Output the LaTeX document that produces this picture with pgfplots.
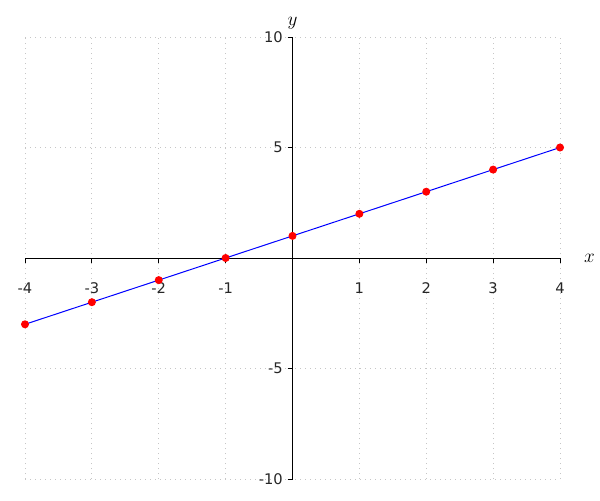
\documentclass[border=0pt]{standalone}
\usepackage{fontspec}
\setmainfont{DejaVu Sans}
\usepackage{pgfplots}
\pgfplotsset{compat=1.18}
\begin{document}
\begin{tikzpicture}
\begin{axis}[name=ax,
  scale only axis, width=401.25pt, height=331.5pt,
  axis lines=middle, axis line style={-, black, line width=0.75pt},
  xmin=-4, xmax=4, ymin=-10, ymax=10,
  xtick={-4,-3,-2,-1,1,2,3,4}, xticklabels={-4,-3,-2,-1,1,2,3,4},
  ytick={-10,-5,5,10}, yticklabels={-10,-5,5,10},
  tick align=outside, major tick length=3.75pt,
  tick style={black, line width=0.75pt},
  ticklabel style={font=\fontsize{11}{13}\selectfont, text=black!85},
  xticklabel style={yshift=-11pt},
  grid=major, grid style={gray!45, line width=0.75pt, dash pattern=on 0.75pt off 3pt},
  clip=false,
  xlabel={$x$}, ylabel={$y$},
  label style={font=\fontsize{14}{16}\selectfont},
  xlabel style={at={(axis cs:4,0)}, anchor=west, xshift=14.5pt},
  ylabel style={at={(axis cs:0,10)}, anchor=south, yshift=2pt},
]
\addplot[blue, line width=0.75pt, mark=*, mark size=2.6pt, mark options={red, fill=red, draw=red}]
  coordinates {(-4,-3) (-3,-2) (-2,-1) (-1,0) (0,1) (1,2) (2,3) (3,4) (4,5)};
\end{axis}
\path ([shift={(-18.75pt,-15.75pt)}]ax.south west) rectangle ([shift={(30pt,27.75pt)}]ax.north east);
\end{tikzpicture}
\end{document}
